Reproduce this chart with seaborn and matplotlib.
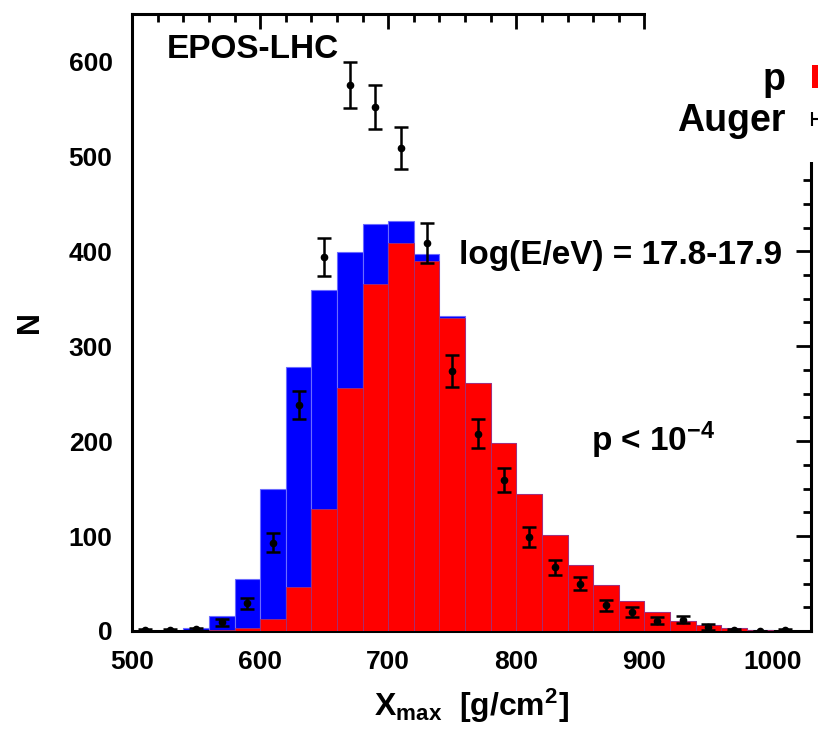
import numpy as np
import pandas as pd
import matplotlib
matplotlib.use("Agg")
import matplotlib.pyplot as plt
import seaborn as sns
from matplotlib.ticker import MultipleLocator
from matplotlib.patches import Rectangle, Patch
from matplotlib.lines import Line2D
from matplotlib.legend_handler import HandlerLine2D

# -----------------------------
# Data
# -----------------------------
bin_edges = list(range(500, 1040, 20))          # 500 ... 1020
bin_centers = [e + 10 for e in bin_edges[:-1]]

# blue histogram (drawn behind)
blue_counts = [0, 0, 3, 16, 55, 150, 278, 359, 399, 429, 432, 397, 332,
               261, 198, 144, 101, 70, 48, 32, 20, 11, 6, 3, 1, 0]
# proton histogram
p_counts = [0, 0, 0, 1, 3, 13, 46, 128, 256, 366, 409, 390, 330,
            261, 198, 144, 101, 70, 48, 32, 20, 11, 6, 3, 1, 0]

# Auger data points
auger_x = [510, 530, 550, 570, 590, 610, 630, 650, 670, 690, 710, 730, 750,
           770, 790, 810, 830, 850, 870, 890, 910, 930, 950, 970, 990, 1010]
auger_y = [1, 1, 2, 9, 29, 93, 238, 394, 575, 552, 509, 409, 274,
           208, 159, 99, 67, 50, 27, 20, 11, 12, 4, 1, 0, 1]
auger_err = [1, 1, 1.5, 4, 6, 10, 15, 20, 24, 23, 22, 21, 17,
             15, 13, 11, 8, 7, 6, 5, 4, 4, 3, 1.5, 0.5, 1]

df = pd.DataFrame({"x": bin_centers, "blue": blue_counts, "p": p_counts})

# -----------------------------
# Style
# -----------------------------
sns.set_theme(style="white")
plt.rcParams["font.family"] = ["Liberation Sans", "DejaVu Sans"]
plt.rcParams["font.weight"] = "bold"
plt.rcParams["text.color"] = "black"
plt.rcParams["axes.labelcolor"] = "black"
plt.rcParams["xtick.color"] = "black"
plt.rcParams["ytick.color"] = "black"
plt.rcParams["mathtext.fontset"] = "custom"
plt.rcParams["mathtext.rm"] = "Liberation Sans:bold"
plt.rcParams["mathtext.it"] = "Liberation Sans:bold"
plt.rcParams["mathtext.bf"] = "Liberation Sans:bold"
plt.rcParams["mathtext.default"] = "regular"

fig = plt.figure(figsize=(8.18, 7.35), dpi=100)
ax = fig.add_axes([0.1614, 0.1415, 0.8300, 0.8395])

# -----------------------------
# Histograms
# -----------------------------
sns.histplot(data=df, x="x", weights="blue", bins=bin_edges, color="#0000ff",
             alpha=1, edgecolor="#6b6bff", linewidth=0.8, ax=ax, zorder=2)
sns.histplot(data=df, x="x", weights="p", bins=bin_edges, color="#ff0000",
             alpha=1, edgecolor="#a0307a", linewidth=0.6, ax=ax, zorder=3)

# Auger points
ax.errorbar(auger_x, auger_y, yerr=auger_err, fmt="o", color="black",
            markersize=4.5, elinewidth=1.8, capsize=5, capthick=1.8, zorder=5)

# -----------------------------
# Axes
# -----------------------------
ax.set_xlim(500, 1030)
ax.set_ylim(0, 650)
ax.xaxis.set_major_locator(MultipleLocator(100))
ax.xaxis.set_minor_locator(MultipleLocator(20))
ax.yaxis.set_major_locator(MultipleLocator(100))
ax.yaxis.set_minor_locator(MultipleLocator(25))
ax.tick_params(which="both", direction="in", top=True, right=True,
               colors="black", labelcolor="black", width=2, labelsize=19, pad=14)
ax.tick_params(which="major", length=11)
ax.tick_params(which="minor", length=5.5)
for s in ax.spines.values():
    s.set_linewidth(2.2)
    s.set_color("black")

ax.set_xlabel(r"X$_{\mathrm{max}}$  [g/cm$^{2}$]", fontsize=23,
              fontweight="bold", labelpad=9, color="black")
ax.set_ylabel("N", fontsize=22, fontweight="bold", labelpad=17, color="black")

# Texts
ax.text(527, 604, "EPOS-LHC", fontsize=24, fontweight="bold", va="baseline",
        color="black")
ax.text(755, 387, "log(E/eV) = 17.8-17.9", fontsize=24, fontweight="bold",
        va="baseline", color="black")
ax.text(858, 190, r"p < 10$^{-4}$", fontsize=24, fontweight="bold",
        va="baseline", color="black")

# white key box covering the top-right corner
ax.add_patch(Rectangle((0.757, 0.76), 0.4, 0.4, transform=ax.transAxes,
                       facecolor="white", edgecolor="none", clip_on=False,
                       zorder=20))

auger_handle = Line2D([], [], color="black", lw=1.5, marker="|",
                      markersize=10, markeredgewidth=1.5)
handles = [Patch(facecolor="#ff0000", edgecolor="none"), auger_handle]
leg = ax.legend(handles, ["p", "Auger"], loc="upper left",
                bbox_to_anchor=(0.828, 0.916), bbox_transform=fig.transFigure,
                markerfirst=False, frameon=False,
                handlelength=2, handleheight=0.6, handletextpad=0.7,
                labelspacing=0.15, borderpad=0, borderaxespad=0,
                handler_map={auger_handle: HandlerLine2D(marker_pad=0, numpoints=2)},
                prop={"weight": "bold", "size": 27})
leg.set_zorder(30)
for t in leg.get_texts():
    t.set_color("black")

plt.savefig("out.png", dpi=100)
plt.close()
